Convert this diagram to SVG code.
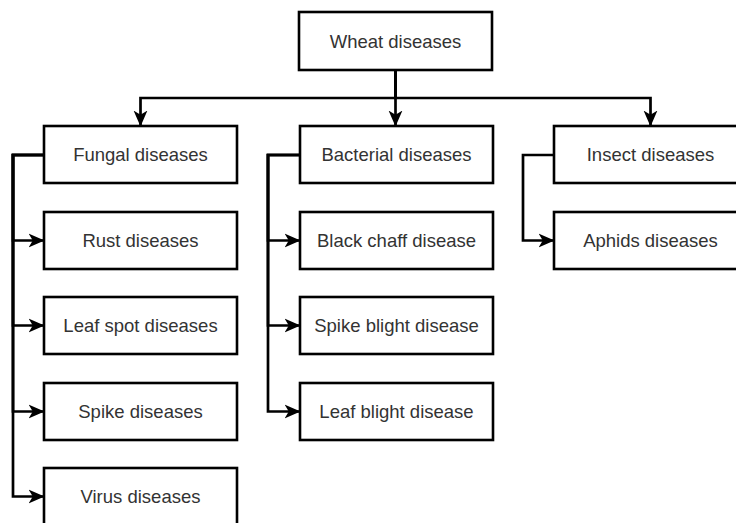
<svg xmlns="http://www.w3.org/2000/svg" width="736" height="523" viewBox="0 0 736 523">
<defs>
<style>
.box{fill:#fff;stroke:#000;stroke-width:2.6}
.lbl{font-family:"Liberation Sans",Arial,sans-serif;font-size:18.5px;fill:#333;text-anchor:middle}
.edge{fill:none;stroke:#000;stroke-width:2.7;stroke-linejoin:miter}
</style>
<marker id="arr" markerUnits="userSpaceOnUse" markerWidth="16" markerHeight="16" viewBox="0 0 15 14" refX="14.5" refY="7" orient="auto">
<path d="M0,0.5 L15,7 L0,13.5 L4,7 Z" fill="#000"/>
</marker>
</defs>
<rect width="736" height="523" fill="#fff"/>
<g id="connectors">
<path class="edge" d="M395.5,70 V98 H140.5 V126" marker-end="url(#arr)"/>
<path class="edge" d="M395.5,70 V126" marker-end="url(#arr)"/>
<path class="edge" d="M395.5,70 V98 H650.5 V126" marker-end="url(#arr)"/>
<path class="edge" d="M44,155 H13 V240.5 H44" marker-end="url(#arr)"/>
<path class="edge" d="M44,155 H13 V325.5 H44" marker-end="url(#arr)"/>
<path class="edge" d="M44,155 H13 V411.5 H44" marker-end="url(#arr)"/>
<path class="edge" d="M44,155 H13 V496.5 H44" marker-end="url(#arr)"/>
<path class="edge" d="M300,155 H268 V240.5 H300" marker-end="url(#arr)"/>
<path class="edge" d="M300,155 H268 V325.5 H300" marker-end="url(#arr)"/>
<path class="edge" d="M300,155 H268 V411.5 H300" marker-end="url(#arr)"/>
<path class="edge" d="M554,155 H523 V240.5 H554" marker-end="url(#arr)"/>
</g>
<g id="wheat"><rect class="box" x="299" y="12" width="193" height="58"/><text class="lbl" x="395.5" y="47.5">Wheat diseases</text></g>
<g id="fungal"><rect class="box" x="44" y="126" width="193" height="57"/><text class="lbl" x="140.5" y="161">Fungal diseases</text></g>
<g id="rust"><rect class="box" x="44" y="212" width="193" height="57"/><text class="lbl" x="140.5" y="247">Rust diseases</text></g>
<g id="leafspot"><rect class="box" x="44" y="297" width="193" height="57"/><text class="lbl" x="140.5" y="332">Leaf spot diseases</text></g>
<g id="spike"><rect class="box" x="44" y="383" width="193" height="57"/><text class="lbl" x="140.5" y="418">Spike diseases</text></g>
<g id="virus"><rect class="box" x="44" y="468" width="193" height="57"/><text class="lbl" x="140.5" y="503">Virus diseases</text></g>
<g id="bacterial"><rect class="box" x="300" y="126" width="193" height="57"/><text class="lbl" x="396.5" y="161">Bacterial diseases</text></g>
<g id="blackchaff"><rect class="box" x="300" y="212" width="193" height="57"/><text class="lbl" x="396.5" y="247">Black chaff disease</text></g>
<g id="spikeblight"><rect class="box" x="300" y="297" width="193" height="57"/><text class="lbl" x="396.5" y="332">Spike blight disease</text></g>
<g id="leafblight"><rect class="box" x="300" y="383" width="193" height="57"/><text class="lbl" x="396.5" y="418">Leaf blight disease</text></g>
<g id="insect"><rect class="box" x="554" y="126" width="193" height="57"/><text class="lbl" x="650.5" y="161">Insect diseases</text></g>
<g id="aphids"><rect class="box" x="554" y="212" width="193" height="57"/><text class="lbl" x="650.5" y="247">Aphids diseases</text></g>
</svg>
